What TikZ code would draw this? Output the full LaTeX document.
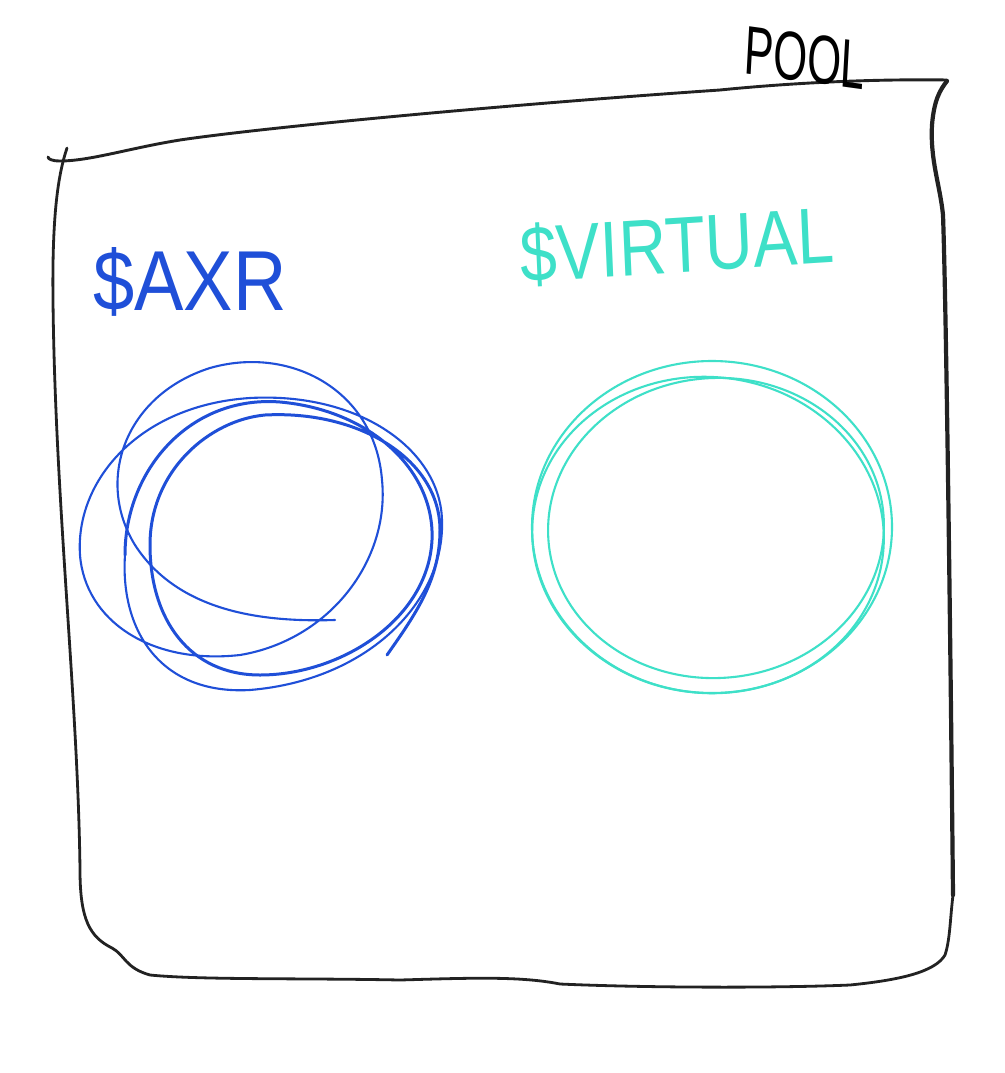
\documentclass[tikz,border=0pt]{standalone}
\usepackage{fontspec}
\setmainfont{Liberation Sans}
\definecolor{axrblue}{HTML}{1F4FD8}
\definecolor{virt}{HTML}{3EE0C8}
\definecolor{ink}{HTML}{222222}
\tikzset{
  inkline/.style={ink, line cap=round, line join=round},
  blueloop/.style={axrblue, line cap=round},
  virtloop/.style={virt, line cap=round, line width=2.1pt},
  label/.style={inner sep=0pt, anchor=center}
}
\begin{document}
\begin{tikzpicture}[x=1pt,y=-1pt]
\useasboundingbox[fill=white] (0,0) rectangle (1004,1073);

% pool outline
\draw[inkline, line width=2.9pt]
  (947,80) .. controls (880,79) and (800,82) .. (720,90)
  .. controls (500,105) and (260,128) .. (180,140)
  .. controls (130,148) and (90,161) .. (60,161)
  .. controls (52,161) and (48,159) .. (48,157);
\draw[inkline, line width=4.2pt]
  (953,895) .. controls (950,600) and (946,300) .. (943,215)
  .. controls (940,185) and (930,160) .. (932,125)
  .. controls (934,100) and (940,90) .. (947,81);
\draw[inkline, line width=2.8pt]
  (67,148) .. controls (58,175) and (52,215) .. (53,300)
  .. controls (55,500) and (78,700) .. (80,870)
  .. controls (80,920) and (90,937) .. (112,948)
  .. controls (125,955) and (125,968) .. (150,975)
  .. controls (200,980) and (300,978) .. (400,980)
  .. controls (470,978) and (520,976) .. (560,984)
  .. controls (650,988) and (780,988) .. (850,985)
  .. controls (900,980) and (935,972) .. (945,955)
  .. controls (950,940) and (950,920) .. (953,895);

% labels
\node[label, font=\fontsize{46}{46}\selectfont, xscale=0.95, yscale=1.5, rotate=-5] (pool) at (805,58) {POOL};
\node[label, text=axrblue, font=\fontsize{74}{74}\selectfont, yscale=1.15] (axr) at (190,282) {\$AXR};
\node[label, text=virt, font=\fontsize{66}{66}\selectfont, yscale=1.2, rotate=3] (virtual) at (677,246) {\$VIRTUAL};

% $AXR scribble circle
\draw[blueloop, line width=2.1pt]
  (335,620) .. controls (270,622) and (180,615) .. (135,545)
  .. controls (95,480) and (125,395) .. (210,368)
  .. controls (290,345) and (375,390) .. (382,480)
  .. controls (390,560) and (330,640) .. (240,655)
  .. controls (150,665) and (85,620) .. (80,555)
  .. controls (75,480) and (140,405) .. (250,398)
  .. controls (360,392) and (440,450) .. (442,520)
  .. controls (445,600) and (370,680) .. (250,690)
  .. controls (160,695) and (120,630) .. (125,555);
\draw[blueloop, line width=3pt]
  (125,555) .. controls (125,470) and (190,395) .. (280,402)
  .. controls (370,410) and (435,470) .. (432,540)
  .. controls (428,620) and (340,675) .. (260,675)
  .. controls (190,675) and (150,620) .. (150,545)
  .. controls (150,470) and (210,420) .. (265,415)
  .. controls (360,410) and (440,460) .. (440,530)
  .. controls (440,580) and (415,615) .. (387,655);

% $VIRTUAL circle
\draw[virtloop] (712,527) ellipse [x radius=180, y radius=166];
\draw[virtloop, rotate around={-6:(708,535)}] (708,535) ellipse [x radius=176, y radius=158];
\draw[virtloop, rotate around={4:(716,528)}] (716,528) ellipse [x radius=168, y radius=150];
\end{tikzpicture}
\end{document}
